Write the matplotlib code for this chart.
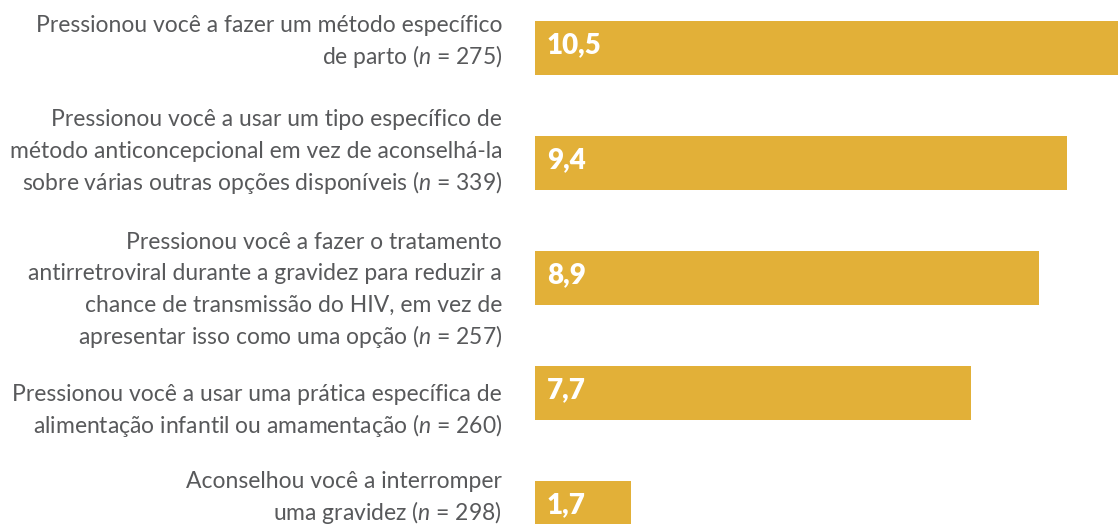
import matplotlib
matplotlib.use("Agg")
import matplotlib.pyplot as plt

plt.rcParams['font.family'] = ['Lato', 'DejaVu Sans']
plt.rcParams['mathtext.fontset'] = 'custom'
plt.rcParams['mathtext.it'] = 'Lato:italic'
plt.rcParams['mathtext.rm'] = 'Lato'

labels = [
    "Pressionou você a fazer um método específico\nde parto ($n$ = 275)",
    "Pressionou você a usar um tipo específico de\nmétodo anticoncepcional em vez de aconselhá-la\nsobre várias outras opções disponíveis ($n$ = 339)",
    "Pressionou você a fazer o tratamento\nantirretroviral durante a gravidez para reduzir a\nchance de transmissão do HIV, em vez de\napresentar isso como uma opção ($n$ = 257)",
    "Pressionou você a usar uma prática específica de\nalimentação infantil ou amamentação ($n$ = 260)",
    "Aconselhou você a interromper\numa gravidez ($n$ = 298)",
]
values = [10.5, 9.4, 8.9, 7.7, 1.7]
value_text = ["10,5", "9,4", "8,9", "7,7", "1,7"]

bar_color = "#E2B038"
text_color = "#58595B"
# pixel shift of each label block's mean baseline from the bar centre (down = +)
label_shift = [0, -5, 18, 24, -4]
line_gap = 31.7

fig = plt.figure(figsize=(11.18, 5.24), dpi=100)
ax = fig.add_axes([535 / 1118, 0, 1 - 535 / 1118, 1])
ypos = list(range(len(values)))
ax.barh(ypos, values, height=0.47, color=bar_color)
ax.set_xlim(0, 10.3)
ax.set_ylim(4.14, -0.42)
ax.axis("off")

for y, t, lab, dy in zip(ypos, value_text, labels, label_shift):
    ax.annotate(t, xy=(0, y), xytext=(12, -5), textcoords="offset pixels",
                color="white", fontsize=20, fontweight="heavy",
                va="baseline", ha="left")
    lines = lab.split("\n")
    n = len(lines)
    for i, line in enumerate(lines):
        off = dy + (i - (n - 1) / 2) * line_gap
        ax.annotate(line, xy=(0, y), xytext=(-33, -off),
                    textcoords="offset pixels", color=text_color,
                    fontsize=16.5, ha="right", va="baseline",
                    annotation_clip=False)

fig.savefig("out.png", dpi=100)
